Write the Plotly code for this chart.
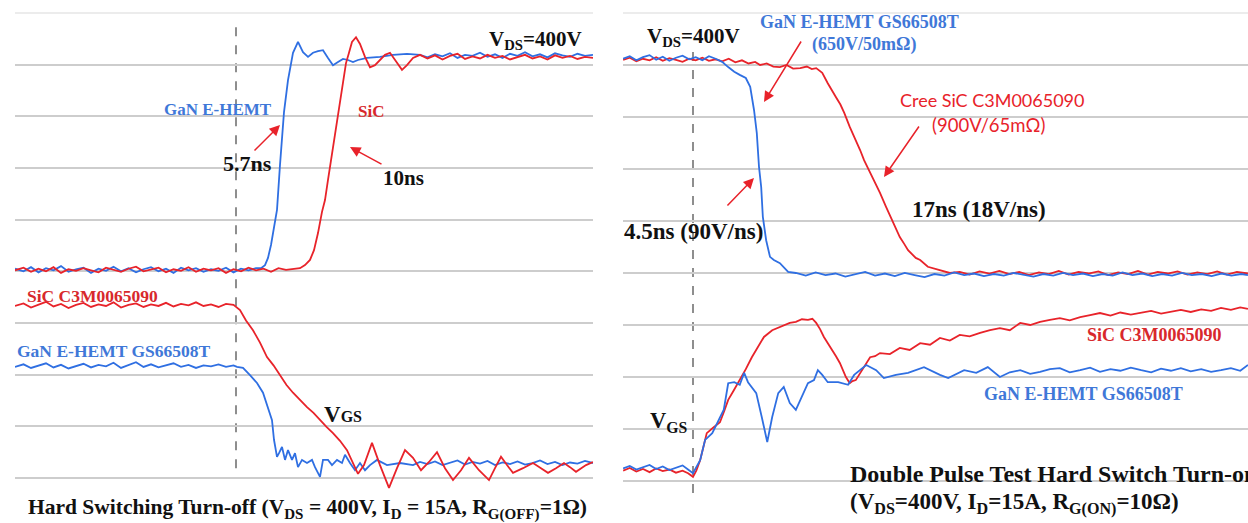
import plotly.graph_objects as go

W, H = 1248, 523

# ---------------- data: left panel (hard switching turn-off) ----------------
# (time in ns relative to gate edge, value in scope divisions)
L_GAN_VDS = [(-44.2,4.05),(-42.5,4.00),(-41,4.08),(-39.5,3.98),(-38,4.06),(-36.5,4.02),(-35,4.10),(-33.5,3.99),
    (-32,4.04),(-30.5,4.07),(-29,3.97),(-27.5,4.05),(-26,4.01),(-24.5,4.09),(-23,4.00),(-21.5,4.06),(-20,3.98),
    (-18.5,4.04),(-17,4.08),(-15.5,4.00),(-14,4.05),(-12.5,3.97),(-11,4.07),(-9.5,4.02),(-8,4.06),(-6.5,3.99),
    (-5,4.04),(-3.5,4.01),(-2,4.07),(-0.5,3.98),(1,4.05),(2.5,4.02),(4,4.06),
    (5.0,4.06),(5.8,4.12),(6.4,4.26),(7.0,4.51),(7.6,4.84),(8.2,5.19),(8.8,6.06),(9.6,7.08),(10.4,7.70),
    (11.4,8.23),(12.4,8.44),(13.4,8.24),(14.4,8.15),(15.4,8.23),(16.4,8.26),(17.4,8.28),(18.4,8.13),(19.4,7.99),
    (20.4,8.05),(21.4,8.11),(22.4,8.09),(23.4,8.05),(24.4,8.09),(26.2,8.13),(28.8,8.15),(31.4,8.19),(34.2,8.21),
    (36.8,8.19),(38.3,8.14),(39.8,8.20),(41.3,8.16),(42.8,8.22),(44.3,8.13),(45.8,8.19),(47.3,8.17),(48.8,8.23),
    (50.3,8.15),(51.8,8.20),(53.3,8.13),(54.8,8.21),(56.3,8.17),(57.8,8.24),(59.3,8.16),(60.8,8.20),(62.3,8.14),
    (63.8,8.22),(65.3,8.18),(66.8,8.15),(68.3,8.21),(69.8,8.17),(71.4,8.19)]

L_SIC_VDS = [(-44.2,4.02),(-42.5,4.07),(-41,3.99),(-39.5,4.05),(-38,4.00),(-36.5,4.08),(-35,3.97),(-33.5,4.04),
    (-32,4.01),(-30.5,4.06),(-29,4.02),(-27.5,3.98),(-26,4.07),(-24.5,4.03),(-23,3.99),(-21.5,4.05),(-20,4.09),
    (-18.5,4.00),(-17,4.03),(-15.5,4.07),(-14,3.98),(-12.5,4.04),(-11,4.01),(-9.5,4.08),(-8,3.99),(-6.5,4.05),
    (-5,4.02),(-3.5,4.06),(-2,3.97),(-0.5,4.04),(1,4.00),(2.5,4.07),(4,4.02),(5.5,4.05),(7,3.99),(8.5,4.06),
    (10,4.03),(11.5,4.05),(12.8,4.06),(13.8,4.12),(14.8,4.22),(15.6,4.41),(16.4,4.74),(17.2,5.15),(17.8,5.38),
    (18.4,5.77),(19.0,6.15),(19.6,6.58),(20.2,6.93),(20.8,7.35),(21.4,7.70),(22.0,8.03),(22.6,8.23),(23.2,8.44),
    (24.0,8.53),(24.8,8.40),(25.8,8.15),(26.8,7.95),(27.8,7.99),(28.8,8.09),(29.8,8.19),(30.8,8.23),(32.2,8.05),
    (33.2,7.90),(34.2,7.99),(35.4,8.13),(36.8,8.19),(38.3,8.12),(39.8,8.18),(41.3,8.10),(42.8,8.17),(44.3,8.21),
    (45.8,8.11),(47.3,8.16),(48.8,8.12),(50.3,8.19),(51.8,8.13),(53.3,8.17),(54.8,8.10),(56.3,8.15),(57.8,8.19),
    (59.3,8.12),(60.8,8.16),(62.3,8.10),(63.8,8.18),(65.3,8.13),(66.8,8.17),(68.3,8.11),(69.8,8.15),(71.4,8.13)]

L_SIC_VGS = [(-44.2,3.33),(-42.5,3.38),(-41,3.30),(-39.5,3.36),(-38,3.41),(-36.5,3.32),(-35,3.37),(-33.5,3.29),
    (-32,3.35),(-30.5,3.39),(-29,3.31),(-27.5,3.36),(-26,3.33),(-24.5,3.40),(-23,3.30),(-21.5,3.35),(-20,3.38),
    (-18.5,3.31),(-17,3.36),(-15.5,3.33),(-14,3.39),(-12.5,3.32),(-11,3.37),(-9.5,3.34),(-8,3.40),(-6.5,3.33),
    (-5,3.36),(-3.5,3.31),(-2,3.37),(-0.5,3.35),(0.8,3.25),(2.0,3.05),(3.4,2.86),(4.8,2.62),(6.2,2.34),(7.5,2.18),
    (8.8,1.99),(10.1,1.80),(11.4,1.65),(12.8,1.50),(14.2,1.37),(15.5,1.26),(16.8,1.12),(18.1,0.99),(19.4,0.87),
    (20.8,0.72),(22.2,0.54),(23.4,0.29),(24.4,0.08),(25.6,0.25),(27.2,0.68),(28.8,0.25),(30.6,-0.19),(32.2,0.19),
    (33.8,0.54),(35.4,0.39),(37.0,0.15),(38.6,0.31),(40.2,0.50),(41.8,0.19),(43.4,-0.04),(45.0,0.15),(46.6,0.39),
    (48.6,0.15),(50.6,-0.04),(51.8,0.19),(53.0,0.41),(54.2,0.25),(55.4,0.10),(57.4,0.19),(59.4,0.29),(61.0,0.19),
    (62.4,0.10),(64.0,0.19),(65.6,0.29),(66.8,0.21),(68.0,0.12),(70.0,0.25),(71.4,0.31)]

L_GAN_VGS = [(-44.2,2.15),(-42.5,2.20),(-41,2.13),(-39.5,2.18),(-38,2.22),(-36.5,2.14),(-35,2.19),(-33.5,2.12),
    (-32,2.17),(-30.5,2.21),(-29,2.14),(-27.5,2.19),(-26,2.16),(-24.5,2.23),(-23,2.13),(-21.5,2.18),(-20,2.24),
    (-18.5,2.15),(-17,2.20),(-15.5,2.14),(-14,2.18),(-12.5,2.22),(-11,2.15),(-9.5,2.19),(-8,2.13),(-6.5,2.18),
    (-5,2.16),(-3.5,2.20),(-2,2.15),(-0.5,2.18),(0.2,2.15),(1.4,2.13),(2.8,1.99),(4.2,1.84),(5.4,1.65),(6.4,1.37),
    (7.2,1.12),(7.6,0.74),(8.2,0.41),(8.6,0.48),(9.2,0.60),(9.8,0.35),(10.4,0.54),(11.2,0.35),(11.8,0.48),
    (12.4,0.21),(13.2,0.35),(14.2,0.29),(15.2,0.35),(15.8,0.21),(16.8,0.02),(17.4,0.35),(18.4,0.35),(19.2,0.25),
    (20.2,0.35),(21.2,0.29),(21.8,0.45),(22.8,0.29),(23.8,0.15),(24.8,0.29),(25.8,0.15),(26.8,0.25),(28.2,0.35),
    (30.2,0.25),(32.8,0.29),(35.4,0.25),(36.8,0.31),(38.3,0.27),(39.8,0.32),(41.3,0.25),(42.8,0.30),(44.3,0.34),
    (45.8,0.26),(47.3,0.31),(48.8,0.28),(50.3,0.33),(51.8,0.25),(53.3,0.30),(54.8,0.27),(56.3,0.32),(57.8,0.26),
    (59.3,0.29),(60.8,0.34),(62.3,0.27),(63.8,0.31),(65.3,0.25),(66.8,0.30),(68.3,0.28),(69.8,0.33),(71.4,0.29)]

# ---------------- data: right panel (double pulse turn-on) ----------------
R_GAN_VDS = [(-12.7,8.12),(-11.5,8.17),(-10.3,8.09),(-9.1,8.15),(-7.9,8.19),(-6.7,8.10),(-5.5,8.16),(-4.3,8.08),
    (-3.1,8.14),(-1.9,8.18),(-0.7,8.11),(0.5,8.15),(1.7,8.09),(2.9,8.17),(4.1,8.12),(5.3,8.06),(6.4,7.96),
    (7.5,7.87),(8.5,7.81),(9.6,7.75),(10.4,7.58),(11.1,7.13),(11.6,6.69),(12.0,6.04),(12.4,5.65),(12.7,5.08),
    (13.3,4.63),(14.0,4.31),(14.7,4.25),(15.8,4.19),(17.3,4.02),(18.7,4.00),(20.5,3.95),(22.3,4.01),(24.1,3.96),
    (25.9,3.99),(27.7,3.93),(29.5,3.98),(31.3,4.02),(33.1,3.95),(34.9,3.99),(36.7,3.94),(38.5,4.00),(40.3,3.96),
    (42.1,3.92),(43.9,3.98),(45.7,3.95),(47.5,4.01),(49.3,3.96),(51.1,3.99),(52.9,3.94),(54.7,3.98),(56.5,3.95),
    (58.3,4.00),(60.1,3.96),(61.9,3.93),(63.7,3.98),(65.5,3.95),(67.3,4.00),(69.1,3.96),(70.9,3.99),(72.7,3.94),
    (74.5,3.98),(76.3,3.95),(78.1,4.01),(79.9,3.96),(81.7,3.99),(83.5,3.94),(85.3,3.98),(87.1,3.95),(88.9,4.00),
    (90.7,3.96),(92.5,3.98),(94.3,3.94),(96.1,3.99),(97.9,3.95),(99.7,3.98),(100.9,3.96)]

R_SIC_VDS = [(-12.7,8.10),(-11.5,8.14),(-10.3,8.07),(-9.1,8.12),(-7.9,8.09),(-6.7,8.15),(-5.5,8.08),(-4.3,8.13),
    (-3.1,8.10),(-1.9,8.06),(-0.7,8.12),(0.5,8.09),(1.7,8.14),(2.9,8.08),(4.1,8.11),(5.3,8.07),(6.5,8.12),
    (7.7,8.05),(8.9,8.09),(10.1,8.03),(11.3,8.06),(12.2,8.00),(13.4,8.03),(14.6,7.97),(15.8,7.96),(17.0,8.00),
    (18.2,7.93),(19.5,7.94),(20.7,7.97),(21.6,7.92),(22.4,7.94),(23.5,7.85),(24.5,7.65),(25.3,7.52),(26.0,7.38),
    (26.8,7.24),(27.5,7.08),(28.5,6.81),(29.6,6.56),(30.4,6.36),(31.1,6.17),(31.8,6.02),(32.5,5.85),(33.3,5.70),
    (34.0,5.54),(35.1,5.27),(36.2,5.02),(36.9,4.85),(37.6,4.69),(38.4,4.56),(39.1,4.44),(40.5,4.29),(41.3,4.25),
    (42.7,4.12),(44.9,4.06),(46.7,4.00),(48.5,4.02),(50.3,3.97),(52.1,4.03),(53.9,3.99),(55.7,4.04),(57.5,3.98),
    (59.3,4.02),(61.1,3.96),(62.9,4.01),(64.7,3.98),(66.5,4.04),(68.3,3.97),(70.1,4.02),(71.9,3.99),(73.7,4.03),
    (75.5,3.96),(77.3,4.01),(79.1,3.98),(80.9,4.04),(82.7,3.97),(84.5,4.02),(86.3,3.99),(88.1,4.03),(89.9,3.97),
    (91.7,4.01),(93.5,3.98),(95.3,4.03),(97.1,3.97),(98.9,4.02),(100.9,3.99)]

R_SIC_VGS = [(-12.7,0.20),(-11.5,0.25),(-10.3,0.18),(-9.1,0.23),(-7.9,0.17),(-6.7,0.24),(-5.5,0.19),(-4.3,0.22),
    (-3.1,0.16),(-1.9,0.20),(-0.9,0.15),(0,0.08),(0.6,0.20),(1.3,0.40),(2.0,0.70),(2.5,0.92),(3.6,1.02),(4.9,1.13),
    (5.7,1.35),(6.4,1.56),(7.4,1.74),(8.5,1.94),(9.6,2.15),(10.7,2.38),(11.8,2.58),(12.9,2.77),(14.4,2.90),
    (16.5,3.00),(17.6,3.04),(18.7,3.06),(19.8,3.11),(20.9,3.10),(21.7,3.12),(22.4,3.04),(23.1,2.92),(23.8,2.77),
    (24.5,2.66),(25.3,2.52),(26.0,2.40),(26.7,2.27),(27.3,2.12),(27.8,2.00),(28.5,1.88),(29.0,1.92),(29.6,1.94),
    (30.4,2.08),(31.1,2.19),(32.2,2.38),(33.1,2.40),(34.0,2.46),(35.8,2.44),(37.6,2.56),(39.4,2.52),(41.3,2.65),
    (43.1,2.62),(44.9,2.75),(46.7,2.70),(48.5,2.81),(50.3,2.78),(52.2,2.85),(54.0,2.90),(55.8,2.94),(57.6,2.90),
    (59.5,3.04),(61.3,3.00),(63.1,3.06),(64.9,3.10),(66.7,3.13),(68.5,3.09),(70.4,3.15),(72.2,3.19),(74.0,3.23),
    (75.9,3.18),(77.7,3.24),(79.6,3.20),(81.5,3.23),(83.3,3.27),(85.1,3.22),(86.9,3.26),(88.7,3.29),(90.5,3.25),
    (92.4,3.30),(94.2,3.27),(96.0,3.33),(97.8,3.29),(99.5,3.34),(100.9,3.31)]

R_GAN_VGS = [(-12.7,0.24),(-11.5,0.29),(-10.3,0.22),(-9.1,0.27),(-7.9,0.31),(-6.7,0.23),(-5.5,0.28),(-4.3,0.21),
    (-3.1,0.26),(-1.9,0.30),(-0.9,0.22),(0,0.15),(1.3,0.40),(2.2,0.79),(3.5,0.92),(4.5,1.12),(5.6,1.37),(6.4,1.88),
    (7.5,1.90),(8.5,1.85),(9.3,2.08),(10.0,1.90),(11.5,1.69),(12.5,1.23),(13.5,0.75),(14.4,1.23),(15.5,1.69),
    (16.5,1.81),(17.6,1.50),(18.7,1.37),(19.8,1.62),(20.9,1.88),(22.0,1.94),(22.7,2.13),(23.5,2.04),(24.5,1.90),
    (26.4,1.90),(28.2,1.85),(29.3,2.04),(30.4,2.13),(31.5,2.23),(33.3,2.13),(34.7,1.98),(36.9,2.04),(39.1,2.08),
    (42.0,2.19),(44.9,2.04),(46.4,1.98),(49.3,2.13),(51.5,2.08),(53.6,2.19),(55.8,2.00),(57.6,2.09),(59.5,2.13),
    (61.3,2.06),(63.1,2.10),(64.9,2.15),(66.7,2.17),(68.5,2.09),(70.4,2.13),(72.2,2.18),(74.0,2.10),(75.9,2.15),
    (77.7,2.12),(79.6,2.18),(81.5,2.13),(83.3,2.09),(85.1,2.16),(86.9,2.12),(88.7,2.17),(90.5,2.11),(92.4,2.15),
    (94.2,2.10),(96.0,2.13),(97.8,2.17),(99.5,2.12),(100.9,2.23)]

BLUE = "#2f6fe2"
RED = "#e8232a"
BLUE_TXT = "#3f78d8"
RED_TXT = "#d8282c"
SERIF = "Liberation Serif"

fig = go.Figure()

def add(series, color, xa, ya):
    fig.add_trace(go.Scatter(x=[p[0] for p in series], y=[p[1] for p in series], mode="lines",
                             line=dict(color=color, width=1.8), xaxis=xa, yaxis=ya,
                             showlegend=False, hoverinfo="skip"))

add(L_GAN_VDS, BLUE, "x", "y")
add(L_SIC_VDS, RED, "x", "y")
add(L_GAN_VGS, BLUE, "x", "y")
add(L_SIC_VGS, RED, "x", "y")
add(R_SIC_VDS, RED, "x2", "y2")
add(R_GAN_VDS, BLUE, "x2", "y2")
add(R_SIC_VGS, RED, "x2", "y2")
add(R_GAN_VGS, BLUE, "x2", "y2")

grid = dict(showgrid=True, gridcolor="#cdcdcd", gridwidth=2, tickvals=list(range(0, 9)),
            showticklabels=False, zeroline=False, showline=False, ticks="")
noax = dict(showgrid=False, zeroline=False, showline=False, showticklabels=False, ticks="")

fig.update_layout(
    width=W, height=H, margin=dict(l=0, r=0, t=0, b=0),
    paper_bgcolor="white", plot_bgcolor="white",
    xaxis=dict(domain=[15 / W, 593 / W], range=[-44.2, 71.4], **noax),
    yaxis=dict(domain=[0, 1], range=[-0.871, 9.251], **grid),
    xaxis2=dict(domain=[623 / W, 1], range=[-12.727, 100.909], **noax),
    yaxis2=dict(domain=[0, 1], range=[-0.808, 9.25], anchor="x2", **grid),
)

shapes = []
for xr, yr in (("x domain", "y"), ("x2 domain", "y2")):
    shapes.append(dict(type="line", xref=xr, yref=yr, x0=0, x1=1, y0=9, y1=9,
                       line=dict(color="#ececec", width=2), layer="below"))
shapes.append(dict(type="line", xref="x", yref="y", x0=0, x1=0, y0=0.19, y1=8.77,
                   line=dict(color="#6a6a6a", width=1.5, dash="dash"), layer="below"))
shapes.append(dict(type="line", xref="x2", yref="y2", x0=0, x1=0, y0=-0.23, y1=8.42,
                   line=dict(color="#6a6a6a", width=1.5, dash="dash"), layer="below"))
fig.update_layout(shapes=shapes)

# text labels: (text, px, py, xanchor, size, color, family)
LABELS = [
    ("<b>V<sub>DS</sub>=400V</b>", 584, 40, "right", 21, "#111111", SERIF),
    ("<b>GaN E-HEMT</b>", 162, 109, "left", 17, BLUE_TXT, SERIF),
    ("<b>SiC</b>", 356, 111, "left", 17, RED_TXT, SERIF),
    ("<b>5.7ns</b>", 221, 163, "left", 22, "#111111", SERIF),
    ("<b>10ns</b>", 381, 178, "left", 21, "#111111", SERIF),
    ("<b>SiC C3M0065090</b>", 25, 296, "left", 17.5, RED_TXT, SERIF),
    ("<b>GaN E-HEMT GS66508T</b>", 15, 351, "left", 17.5, BLUE_TXT, SERIF),
    ("<b>V<span style='font-size:16px'>GS</span></b>", 322, 414, "left", 23, "#111111", SERIF),
    ("<b>Hard Switching Turn-off (V<sub>DS</sub> = 400V, I<sub>D</sub> = 15A, R<sub>G(OFF)</sub>=1Ω)</b>",
     26, 509, "left", 21.5, "#111111", SERIF),
    ("<b>V<sub>DS</sub>=400V</b>", 645, 37, "left", 21, "#111111", SERIF),
    ("<b>GaN E-HEMT GS66508T</b>", 758, 22, "left", 18, BLUE_TXT, SERIF),
    ("<b>(650V/50mΩ)</b>", 864, 44, "center", 18, BLUE_TXT, SERIF),
    ("Cree SiC C3M0065090", 898, 100, "left", 18, "#e8222a", "Lato"),
    ("(900V/65mΩ)", 988, 125, "center", 18.5, "#e8222a", "Lato"),
    ("<b>17ns (18V/ns)</b>", 910, 209, "left", 23, "#111111", SERIF),
    ("<b>4.5ns (90V/ns)</b>", 622, 231, "left", 23, "#111111", SERIF),
    ("<b>SiC C3M0065090</b>", 1085, 335, "left", 18, RED_TXT, SERIF),
    ("<b>GaN E-HEMT GS66508T</b>", 982, 394, "left", 18, BLUE_TXT, SERIF),
    ("<b>V<sub>GS</sub></b>", 648, 422, "left", 22.5, "#111111", SERIF),
    ("<b>Double Pulse Test Hard Switch Turn-on</b>", 848, 474, "left", 24, "#111111", SERIF),
    ("<b>(V<sub>DS</sub>=400V, I<sub>D</sub>=15A, R<sub>G(ON)</sub>=10Ω)</b>", 848, 503, "left", 23, "#111111", SERIF),
]
# arrows: (head_px, head_py, tail_px, tail_py)
ARROWS = [(280, 125, 253, 152), (350, 147, 383, 165), (764, 102, 802, 40),
          (884, 177, 920, 125), (754, 178, 726, 207)]

ann = []
for text, px, py, xa, size, color, fam in LABELS:
    ann.append(dict(text=text, x=px / W, y=1 - py / H, xref="paper", yref="paper", xanchor=xa,
                    yanchor="middle", showarrow=False, font=dict(family=fam, size=size, color=color)))
for hx, hy, tx, ty in ARROWS:
    ann.append(dict(text="", x=hx / W, y=1 - hy / H, xref="paper", yref="paper", showarrow=True,
                    ax=tx - hx, ay=ty - hy, arrowhead=2, arrowsize=1.4, arrowwidth=1.5,
                    arrowcolor="#e8222a", standoff=0))
fig.update_layout(annotations=ann)

fig.write_html("out.html", config={"displayModeBar": False},
               post_script="document.body.style.margin='0px';document.body.style.padding='0px';"
                           "document.body.style.overflow='hidden';")
